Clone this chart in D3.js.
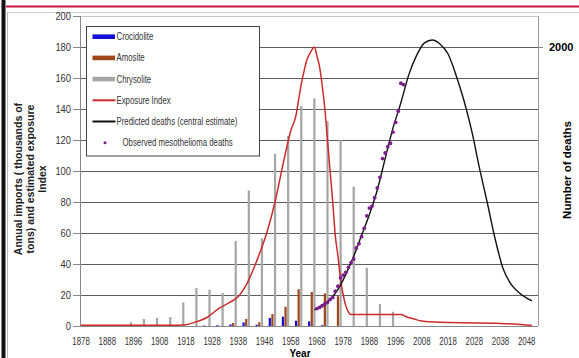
<!DOCTYPE html>
<html lang="en">
<head>
    <meta charset="UTF-8">
    <title>Asbestos imports and mesothelioma deaths</title>
    <script src="https://d3js.org/d3.v7.min.js"></script>
    <style>
        body {
            margin: 0;
            background: #fff;
            font-family: Arial, "Liberation Sans", sans-serif;
        }
        svg text {
            fill: #333;
        }
    </style>
</head>
<body>
    <div id="chart"></div>
    <script>
        // import groups, one every 5 years (thousands of tons)
        const importYears = [1896, 1901, 1906, 1911, 1916, 1921, 1926, 1931, 1936, 1941, 1946,
                             1951, 1956, 1961, 1966, 1971, 1976, 1981, 1986, 1991, 1996];
        const crocidolite = [0, 0, 0, 0, 0, 0, 0.3, 0.5, 1, 2.3, 0.8, 5.2, 6, 3.4, 3, 0.5, 0, 0, 0, 0, 0];
        const amosite = [0, 0, 0, 0, 0, 0, 0, 0, 2, 4.6, 2.4, 7.7, 12.4, 23.7, 22, 21, 19.2, 0, 0, 0, 0];
        const chrysolite = [2.4, 4.5, 5.3, 5.8, 15.3, 24.5, 23.4, 21.3, 54.8, 87.5, 56.6,
                            111, 122.6, 141.9, 146.9, 132.3, 120, 90, 37.6, 14.2, 9.2];

        // exposure index
        const exposureYears = [1878, 1915, 1918, 1921, 1926, 1931, 1935, 1938, 1941, 1945, 1949, 1952, 1955,
                               1958, 1960, 1961, 1962, 1963, 1964, 1965, 1966, 1967, 1968, 1969, 1970,
                               1971, 1972, 1973, 1974, 1975, 1976, 1977, 1978, 1979, 1980, 1981, 2000,
                               2002, 2005, 2008, 2015, 2030, 2036, 2043, 2050];
        const exposure = [0.5, 0.5, 0.8, 2.2, 5.5, 11.8, 15.5, 19, 26.5, 42, 61, 80, 104,
                          126, 136, 146, 156, 164, 171, 175, 178, 180, 174, 167, 155,
                          140, 120, 100, 80, 58, 45, 30, 20, 13, 9, 7.5, 7.5,
                          6, 4.5, 3.2, 2.4, 2, 1.7, 1.3, 0.3];

        // predicted deaths (central estimate)
        const predYears = [1967, 1970, 1973, 1976, 1979, 1982, 1985, 1988, 1991, 1994, 1997, 2000, 2003,
                           2006, 2009, 2012, 2015, 2018, 2021, 2024, 2027, 2030, 2033, 2036, 2039,
                           2042, 2045, 2048, 2050];
        const predDeaths = [115, 150, 190, 262, 370, 500, 650, 800, 975, 1200, 1420, 1600, 1800,
                            1940, 2030, 2050, 2020, 1950, 1800, 1620, 1400, 1130, 880, 620, 410,
                            300, 240, 200, 180];

        // observed mesothelioma deaths
        const obsYears = [1968, 1969, 1970, 1971, 1972, 1973, 1974, 1975, 1976, 1977, 1978, 1979,
                          1980, 1981, 1982, 1983, 1984, 1985, 1986, 1987, 1988, 1989, 1990, 1991,
                          1992, 1993, 1994, 1995, 1996, 1997, 1998, 1999, 2000, 2001];
        const obsDeaths = [125, 134, 145, 158, 170, 190, 205, 250, 285, 345, 365, 385,
                           420, 455, 480, 560, 590, 640, 700, 790, 845, 860, 920, 990,
                           1066, 1200, 1240, 1285, 1310, 1390, 1460, 1540, 1740, 1730];

        const xTickLabels = ['1878', '1888', '1896', '1908', '1918', '1928', '1938', '1948', '1958',
                             '1968', '1978', '1988', '1996', '2008', '2018', '2028', '2038', '2048'];
        const yTicks = [0, 20, 40, 60, 80, 100, 120, 140, 160, 180, 200];
        const rightTicks = [2000];

        const legendItems = [
            { label: 'Crocidolite', kind: 'bar', color: '#1010d8' },
            { label: 'Amosite', kind: 'bar', color: '#a0461a' },
            { label: 'Chrysolite', kind: 'bar', color: '#a6a6a6' },
            { label: 'Exposure Index', kind: 'line', color: '#cc2b2b' },
            { label: 'Predicted  deaths (central estimate)', kind: 'line', color: '#111' },
            { label: 'Observed mesothelioma deaths', kind: 'dot', color: '#7a1f8a' }
        ];

        const width = 579;
        const height = 358;
        const plot = { left: 80, right: 538, top: 16, bottom: 326 };

        const svg = d3.select('#chart')
            .append('svg')
            .attr('width', width)
            .attr('height', height);

        // slide frame
        svg.append('rect').attr('x', 1.5).attr('y', 0).attr('width', 4).attr('height', height).attr('fill', '#111');
        svg.append('line').attr('x1', 7.5).attr('x2', 7.5).attr('y1', 12).attr('y2', height)
            .attr('stroke', '#bbb');
        svg.append('line').attr('x1', 6).attr('x2', width).attr('y1', 6.5).attr('y2', 6.5)
            .attr('stroke', '#c8143c').attr('stroke-width', 2);
        svg.append('line').attr('x1', 8).attr('x2', width).attr('y1', 12.5).attr('y2', 12.5)
            .attr('stroke', '#ccc');

        const x = d3.scaleLinear()
            .domain([1877.6, 2052.3])
            .range([plot.left, plot.right]);

        const y = d3.scaleLinear()
            .domain([0, 200])
            .range([plot.bottom, plot.top]);

        const yRight = d3.scaleLinear()
            .domain([0, 2000 * 200 / 180])
            .range([plot.bottom, plot.top]);

        // gridlines
        svg.append('g')
            .selectAll('line')
            .data(yTicks.filter(d => d > 0))
            .enter().append('line')
            .attr('x1', plot.left)
            .attr('x2', plot.right)
            .attr('y1', d => Math.round(y(d)) + 0.5)
            .attr('y2', d => Math.round(y(d)) + 0.5)
            .attr('stroke', d => d === 200 ? '#c8c8c8' : '#5e5e5e');

        // bars
        const yearW = x(1) - x(0);
        const sub = d3.scaleBand()
            .domain(['croc', 'amos', 'chry'])
            .range([-1.5 * yearW, 1.5 * yearW]);

        const barSeries = [
            { key: 'croc', values: crocidolite, color: legendItems[0].color },
            { key: 'amos', values: amosite, color: legendItems[1].color },
            { key: 'chry', values: chrysolite, color: legendItems[2].color }
        ];

        barSeries.forEach(s => {
            svg.append('g')
                .selectAll('rect')
                .data(importYears.map((yr, i) => ({ yr, v: s.values[i] })).filter(d => d.v > 0))
                .enter().append('rect')
                .attr('x', d => x(d.yr) + sub(s.key) + 0.2)
                .attr('width', sub.bandwidth() - 0.4)
                .attr('y', d => y(d.v))
                .attr('height', d => y(0) - y(d.v))
                .attr('fill', s.color);
        });

        // axes lines
        svg.append('line')
            .attr('x1', plot.left + 0.5).attr('x2', plot.left + 0.5)
            .attr('y1', plot.top).attr('y2', plot.bottom)
            .attr('stroke', '#888');
        svg.append('line')
            .attr('x1', plot.right + 0.5).attr('x2', plot.right + 0.5)
            .attr('y1', plot.top).attr('y2', plot.bottom)
            .attr('stroke', '#999');
        svg.append('line')
            .attr('x1', plot.left).attr('x2', plot.right)
            .attr('y1', plot.bottom + 0.5).attr('y2', plot.bottom + 0.5)
            .attr('stroke', '#888');

        // exposure index
        const line = d3.line().curve(d3.curveMonotoneX);

        svg.append('path')
            .datum(exposureYears.map((yr, i) => [x(yr), y(exposure[i])]))
            .attr('fill', 'none')
            .attr('stroke', legendItems[3].color)
            .attr('stroke-width', 1.5)
            .attr('d', line);

        // predicted deaths
        svg.append('path')
            .datum(predYears.map((yr, i) => [x(yr), yRight(predDeaths[i])]))
            .attr('fill', 'none')
            .attr('stroke', legendItems[4].color)
            .attr('stroke-width', 1.4)
            .attr('d', line);

        // observed deaths
        svg.append('g')
            .selectAll('circle')
            .data(obsYears.map((yr, i) => ({ yr, v: obsDeaths[i] })))
            .enter().append('circle')
            .attr('cx', d => x(d.yr))
            .attr('cy', d => yRight(d.v))
            .attr('r', 1.9)
            .attr('fill', legendItems[5].color);

        // left axis ticks
        const yAxis = svg.append('g');
        yAxis.selectAll('line')
            .data(yTicks)
            .enter().append('line')
            .attr('x1', plot.left - 7).attr('x2', plot.left)
            .attr('y1', d => Math.round(y(d)) + 0.5)
            .attr('y2', d => Math.round(y(d)) + 0.5)
            .attr('stroke', '#888');
        yAxis.selectAll('text')
            .data(yTicks)
            .enter().append('text')
            .attr('x', plot.left - 9)
            .attr('y', d => y(d))
            .attr('dy', '0.35em')
            .attr('text-anchor', 'end')
            .style('font-size', '11px')
            .text(d => d)
            .each(function () {
                const len = this.getComputedTextLength();
                d3.select(this).attr('textLength', len * 0.85).attr('lengthAdjust', 'spacingAndGlyphs');
            });

        // right axis
        svg.append('g')
            .selectAll('line')
            .data(rightTicks)
            .enter().append('line')
            .attr('x1', plot.right).attr('x2', plot.right + 5)
            .attr('y1', d => Math.round(yRight(d)) + 0.5)
            .attr('y2', d => Math.round(yRight(d)) + 0.5)
            .attr('stroke', '#888');
        svg.append('g')
            .selectAll('text')
            .data(rightTicks)
            .enter().append('text')
            .attr('x', plot.right + 11)
            .attr('y', d => yRight(d))
            .attr('dy', '0.35em')
            .style('font-size', '11px')
            .style('font-weight', 'bold')
            .style('fill', '#000')
            .text(d => d);

        // x tick labels
        svg.append('g')
            .selectAll('text')
            .data(xTickLabels)
            .enter().append('text')
            .attr('x', (d, i) => x(1878 + i * 10))
            .attr('y', plot.bottom + 15)
            .attr('dy', '0.35em')
            .attr('text-anchor', 'middle')
            .attr('textLength', 17.5)
            .attr('lengthAdjust', 'spacingAndGlyphs')
            .style('font-size', '10px')
            .text(d => d);

        // axis titles
        svg.append('text')
            .attr('x', 300)
            .attr('y', 357)
            .attr('text-anchor', 'middle')
            .style('font-size', '10px')
            .style('font-weight', 'bold')
            .style('fill', '#000')
            .text('Year');

        const leftTitle = ['Annual imports ( thousands of', 'tons) and estimated exposure', 'Index'];
        svg.append('g')
            .attr('transform', 'translate(0,179) rotate(-90)')
            .selectAll('text')
            .data(leftTitle)
            .enter().append('text')
            .attr('x', 0)
            .attr('y', (d, i) => 22 + i * 12)
            .attr('text-anchor', 'middle')
            .style('font-size', '10.5px')
            .style('font-weight', 'bold')
            .style('fill', '#222')
            .text(d => d);

        svg.append('text')
            .attr('transform', 'translate(571,170) rotate(-90)')
            .attr('text-anchor', 'middle')
            .style('font-size', '11.5px')
            .style('font-weight', 'bold')
            .style('fill', '#000')
            .text('Number of deaths');

        // legend
        const legend = svg.append('g').attr('transform', 'translate(86.5,26.5)');
        legend.append('rect')
            .attr('width', 173)
            .attr('height', 129.5)
            .attr('fill', '#fff')
            .attr('stroke', '#444');

        const item = legend.selectAll('g.item')
            .data(legendItems)
            .enter().append('g')
            .attr('class', 'item')
            .attr('transform', (d, i) => `translate(0,${10.2 + i * 21.2})`);

        item.each(function (d) {
            const g = d3.select(this);
            if (d.kind === 'bar') {
                g.append('rect').attr('x', 6).attr('y', -2.3).attr('width', 22.5).attr('height', 4.6).attr('fill', d.color);
            } else if (d.kind === 'line') {
                g.append('line').attr('x1', 6).attr('x2', 29).attr('y1', 0).attr('y2', 0)
                    .attr('stroke', d.color).attr('stroke-width', 2);
            } else {
                g.append('circle').attr('cx', 18.5).attr('cy', 0).attr('r', 1.5).attr('fill', d.color);
            }
        });

        item.append('text')
            .attr('x', d => d.kind === 'dot' ? 36 : 30)
            .attr('y', 0)
            .attr('dy', '0.35em')
            .style('font-size', '10px')
            .text(d => d.label)
            .each(function () {
                const len = this.getComputedTextLength();
                d3.select(this).attr('textLength', len * 0.78).attr('lengthAdjust', 'spacingAndGlyphs');
            });
    </script>
</body>
</html>
